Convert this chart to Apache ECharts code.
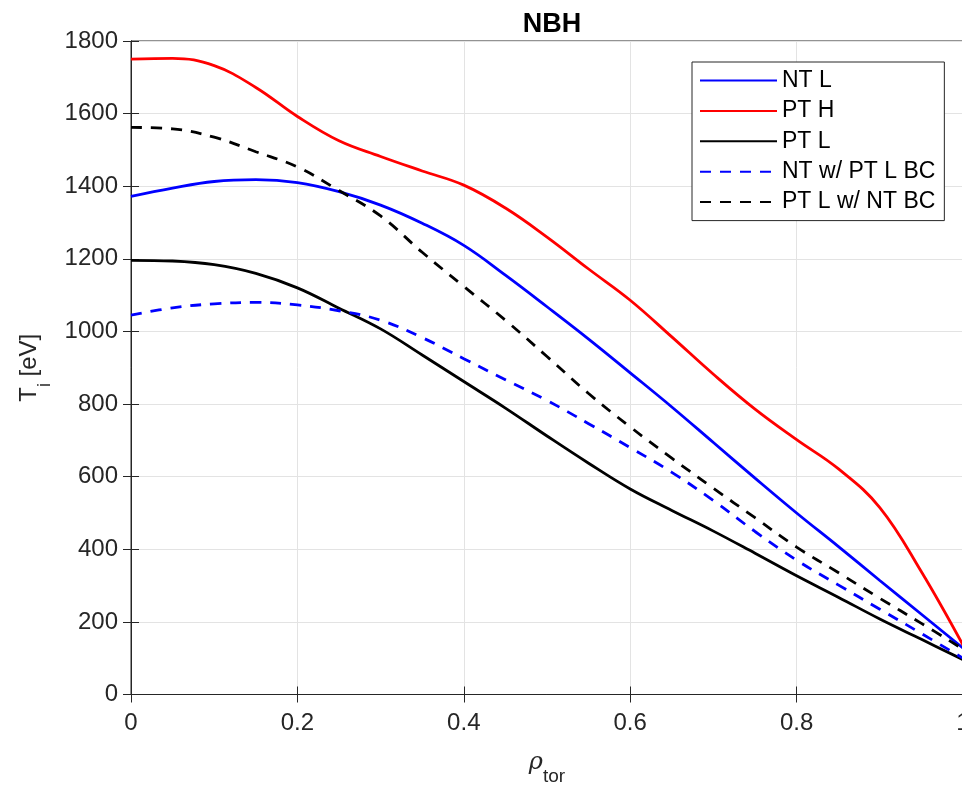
<!DOCTYPE html>
<html>
<head>
<meta charset="utf-8">
<script src="https://cdn.jsdelivr.net/npm/echarts@6/dist/echarts.min.js"></script>
<style>
  html, body { margin: 0; padding: 0; background: #fff; }
  #chart { width: 962px; height: 790px; }
</style>
</head>
<body>
<div id="chart"></div>
<script>
// Normalised toroidal radius
const rho = [0, 0.05, 0.1, 0.15, 0.2, 0.25, 0.3, 0.35, 0.4, 0.45, 0.5,
             0.55, 0.6, 0.65, 0.7, 0.75, 0.8, 0.85, 0.9, 0.95, 1.0];

// Ion temperature profiles [eV]
const ntL = [1372, 1395, 1413, 1418, 1410, 1385, 1348, 1298, 1237, 1155, 1068,
             979, 886, 792, 694, 596, 500, 408, 314, 221, 128];
const ptH = [1750, 1752, 1732, 1672, 1592, 1525, 1482, 1442, 1403, 1340, 1260,
             1172, 1086, 985, 882, 786, 702, 622, 515, 338, 136];
const ptL = [1196, 1194, 1184, 1160, 1120, 1064, 1007, 935, 862, 789, 712,
             637, 566, 507, 450, 389, 327, 268, 208, 152, 96];
const ntWithPtLBC = [1045, 1065, 1076, 1080, 1073, 1057, 1031, 983, 925, 867, 810,
                     746, 680, 612, 534, 449, 370, 302, 235, 168, 100];
const ptLWithNtBC = [1562, 1558, 1535, 1495, 1453, 1388, 1318, 1218, 1124, 1031, 931,
                     829, 737, 651, 568, 487, 406, 336, 265, 196, 125];

const seriesNames = ['NT L', 'PT H', 'PT L', 'NT w/ PT L BC', 'PT L w/ NT BC'];

const xTicks = { min: 0, max: 1, interval: 0.2 };
const yTicks = { min: 0, max: 1800, interval: 200 };

const axisColor = '#262626';
const gridColor = '#e3e3e3';
const font = 'Liberation Sans, Arial, Helvetica, sans-serif';

function pairs(ys) { return rho.map((x, i) => [x, ys[i]]); }

function lineSeries(name, ys, color, dashed) {
  return {
    name: name,
    type: 'line',
    data: pairs(ys),
    smooth: 0.4,
    symbol: 'none',
    showSymbol: false,
    lineStyle: { color: color, width: 2.8, type: dashed ? [11, 9] : 'solid' },
    itemStyle: { color: color },
    z: 3
  };
}

const chart = echarts.init(document.getElementById('chart'), null, { renderer: 'canvas' });

chart.setOption({
  animation: false,
  backgroundColor: '#fff',
  textStyle: { fontFamily: font },
  title: {
    text: 'NBH',
    left: 547,
    top: 6,
    textAlign: 'center',
    textStyle: { fontFamily: font, fontSize: 27, fontWeight: 'bold', color: '#000' }
  },
  grid: {
    left: 131,
    top: 41,
    width: 832,
    height: 653.5,
    outerBoundsMode: 'none',
    containLabel: false,
    show: true,
    borderColor: axisColor,
    borderWidth: 1,
    backgroundColor: 'transparent'
  },
  legend: {
    left: 692,
    top: 62,
    orient: 'vertical',
    data: seriesNames,
    itemWidth: 77,
    itemHeight: 22,
    itemGap: 7.4,
    padding: [7, 9, 7, 7],
    backgroundColor: '#fff',
    borderColor: axisColor,
    borderWidth: 1,
    borderRadius: 0,
    itemStyle: { opacity: 0 },
    textStyle: { fontFamily: font, fontSize: 23, color: '#000', lineHeight: 22 }
  },
  xAxis: [{
    type: 'value',
    min: xTicks.min,
    max: xTicks.max,
    interval: xTicks.interval,
    position: 'bottom',
    axisLine: { show: true, lineStyle: { color: axisColor, width: 1 } },
    axisTick: { show: true, inside: true, length: 8, lineStyle: { color: axisColor } },
    axisLabel: {
      margin: 17, fontSize: 24, color: axisColor, fontFamily: font,
      formatter: v => (v === 0 || v === 1) ? String(v) : v.toFixed(1)
    },
    splitLine: { show: true, lineStyle: { color: gridColor, width: 1 } },
    name: '{r|ρ}{s|tor}',
    nameLocation: 'middle',
    nameGap: 50,
    nameTextStyle: {
      rich: {
        r: { fontFamily: 'DejaVu Serif, serif', fontStyle: 'italic', fontSize: 24, color: axisColor, verticalAlign: 'bottom', lineHeight: 30 },
        s: { fontFamily: font, fontSize: 19, color: axisColor, verticalAlign: 'bottom', lineHeight: 30, padding: [0, 0, -12, 0] }
      }
    }
  }, {
    type: 'value',
    min: xTicks.min,
    max: xTicks.max,
    interval: xTicks.interval,
    position: 'top',
    axisLine: { show: true, lineStyle: { color: axisColor, width: 1 } },
    axisTick: { show: true, inside: true, length: 8, lineStyle: { color: axisColor } },
    axisLabel: { show: false },
    splitLine: { show: false }
  }],
  yAxis: [{
    type: 'value',
    min: yTicks.min,
    max: yTicks.max,
    interval: yTicks.interval,
    position: 'left',
    axisLine: { show: true, lineStyle: { color: axisColor, width: 1 } },
    axisTick: { show: true, inside: true, length: 8, lineStyle: { color: axisColor } },
    axisLabel: { margin: 13, fontSize: 24, color: axisColor, fontFamily: font, formatter: v => String(v) },
    splitLine: { show: true, lineStyle: { color: gridColor, width: 1 } },
    name: '{t|T}{s|i}{t| [eV]}',
    nameLocation: 'middle',
    nameGap: 70,
    nameRotate: 90,
    nameTextStyle: {
      rich: {
        t: { fontFamily: font, fontSize: 24, color: axisColor, verticalAlign: 'bottom', lineHeight: 30 },
        s: { fontFamily: font, fontSize: 18, color: axisColor, verticalAlign: 'bottom', lineHeight: 30, padding: [0, 0, -12, 0] }
      }
    }
  }, {
    type: 'value',
    min: yTicks.min,
    max: yTicks.max,
    interval: yTicks.interval,
    position: 'right',
    axisLine: { show: true, lineStyle: { color: axisColor, width: 1 } },
    axisTick: { show: true, inside: true, length: 8, lineStyle: { color: axisColor } },
    axisLabel: { show: false },
    splitLine: { show: false }
  }],
  series: [
    lineSeries(seriesNames[0], ntL, '#0000ff', false),
    lineSeries(seriesNames[1], ptH, '#ff0000', false),
    lineSeries(seriesNames[2], ptL, '#000000', false),
    lineSeries(seriesNames[3], ntWithPtLBC, '#0000ff', true),
    lineSeries(seriesNames[4], ptLWithNtBC, '#000000', true)
  ]
});
</script>
</body>
</html>
